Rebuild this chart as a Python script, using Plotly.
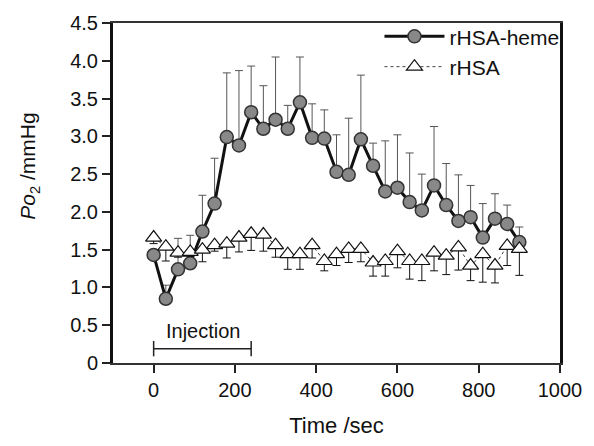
import plotly.graph_objects as go

# ---- data ----
time_sec = [0, 30, 60, 90, 120, 150, 180, 210, 240, 270, 300, 330, 360, 390, 420, 450,
            480, 510, 540, 570, 600, 630, 660, 690, 720, 750, 780, 810, 840, 870, 900]

heme_mean = [1.43, 0.85, 1.24, 1.32, 1.74, 2.11, 2.99, 2.88, 3.32, 3.10, 3.22, 3.10, 3.45, 2.98, 2.97, 2.53,
             2.49, 2.96, 2.61, 2.27, 2.32, 2.13, 2.02, 2.35, 2.09, 1.88, 1.93, 1.66, 1.91, 1.84, 1.60]
heme_err_up = [0.06, 0.18, 0.41, 0.37, 0.48, 0.60, 0.85, 0.99, 0.61, 0.57, 0.83, 0.31, 0.60, 0.45, 0.38, 0.49,
               0.75, 0.85, 0.30, 0.67, 0.70, 0.65, 0.48, 0.78, 0.55, 0.61, 0.42, 0.45, 0.33, 0.25, 0.20]

rhsa_mean = [1.66, 1.54, 1.46, 1.47, 1.50, 1.56, 1.58, 1.66, 1.71, 1.70, 1.56, 1.44, 1.44, 1.56, 1.35, 1.44,
             1.51, 1.51, 1.33, 1.35, 1.48, 1.35, 1.35, 1.46, 1.42, 1.53, 1.29, 1.44, 1.29, 1.55, 1.51]
rhsa_err_down = [0.08, 0.19, 0.06, 0.06, 0.16, 0.08, 0.19, 0.19, 0.22, 0.22, 0.16, 0.20, 0.20, 0.17, 0.13, 0.15,
                 0.18, 0.17, 0.18, 0.20, 0.22, 0.24, 0.26, 0.24, 0.25, 0.30, 0.20, 0.37, 0.23, 0.26, 0.35]

injection_x = [0, 240]
injection_y = [0.19, 0.19]
injection_label = "Injection"

x_ticks = [0, 200, 400, 600, 800, 1000]
y_ticks = [0, 0.5, 1.0, 1.5, 2.0, 2.5, 3.0, 3.5, 4.0, 4.5]
y_ticklabels = ["0", "0.5", "1.0", "1.5", "2.0", "2.5", "3.0", "3.5", "4.0", "4.5"]

FONT = "Arial, 'Liberation Sans', Helvetica, sans-serif"

fig = go.Figure()

fig.add_trace(go.Scatter(
    x=time_sec, y=heme_mean, name="rHSA-heme", mode="lines+markers",
    line=dict(color="#111111", width=3),
    marker=dict(symbol="circle", size=13, color="#888888", line=dict(color="#333333", width=1.5)),
    error_y=dict(type="data", symmetric=False, array=heme_err_up,
                 arrayminus=[0] * len(heme_err_up), color="#555555", thickness=1, width=4),
))

fig.add_trace(go.Scatter(
    x=time_sec, y=rhsa_mean, name="rHSA", mode="lines+markers",
    line=dict(color="#444444", width=1, dash="dot"),
    marker=dict(symbol="triangle-up", size=14, color="white", line=dict(color="#111111", width=1.2)),
    error_y=dict(type="data", symmetric=False, array=[0] * len(rhsa_err_down),
                 arrayminus=rhsa_err_down, color="#111111", thickness=1, width=4),
))

fig.add_trace(go.Scatter(
    x=injection_x, y=injection_y, mode="lines+markers", showlegend=False, hoverinfo="skip",
    line=dict(color="#222222", width=1.5),
    marker=dict(symbol="line-ns-open", size=11, line=dict(color="#222222", width=1.5)),
))

fig.add_annotation(
    x=(injection_x[0] + injection_x[1]) / 2 + 3, y=0.43, xref="x", yref="y",
    text=injection_label, showarrow=False,
    font=dict(family=FONT, size=20, color="#111111"),
)

fig.add_annotation(
    x=-0.188, y=0.58, xref="paper", yref="paper", textangle=-90,
    text="<i>P</i><i>o</i><sub>2</sub> /mmHg", showarrow=False,
    xanchor="center", yanchor="middle",
    font=dict(family=FONT, size=21, color="#111111"),
)

fig.update_layout(
    width=594, height=446,
    margin=dict(l=113, r=24, t=18, b=82),
    paper_bgcolor="white", plot_bgcolor="white",
    font=dict(family=FONT, size=20, color="#111111"),
    showlegend=True,
    legend=dict(x=1.01, y=1.02, xanchor="right", yanchor="top",
                bgcolor="rgba(0,0,0,0)", borderwidth=0,
                font=dict(family=FONT, size=21, color="#111111"),
                itemwidth=60, tracegroupgap=0),
    xaxis=dict(
        range=[-100, 1000], tickmode="array", tickvals=x_ticks,
        ticks="outside", ticklen=8, tickwidth=1.5, tickcolor="#222222",
        showline=True, linecolor="#333333", linewidth=2, mirror=True,
        showgrid=False, zeroline=False,
        title=dict(text="Time /sec", font=dict(family=FONT, size=22, color="#111111"), standoff=18),
    ),
    yaxis=dict(
        range=[0, 4.5], tickmode="array", tickvals=y_ticks, ticktext=y_ticklabels,
        ticks="outside", ticklen=8, tickwidth=1.5, tickcolor="#222222",
        showline=True, linecolor="#111111", linewidth=3, mirror=True,
        showgrid=False, zeroline=False,
    ),
)

fig.write_html("out.html")
